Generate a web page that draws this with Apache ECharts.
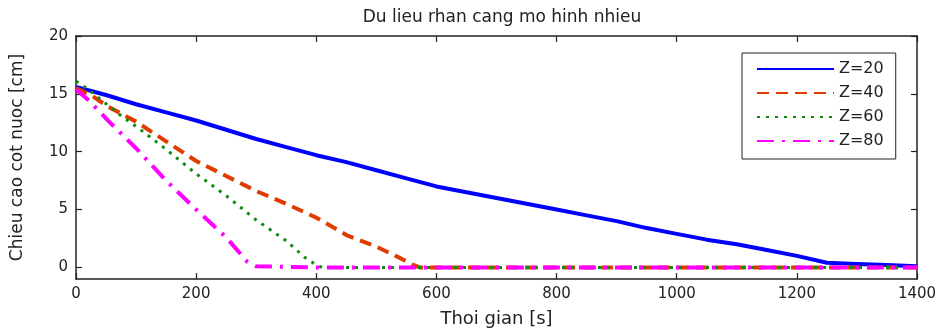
<!DOCTYPE html>
<html>
<head>
<meta charset="utf-8">
<script src="https://cdn.jsdelivr.net/npm/echarts@6/dist/echarts.min.js"></script>
<style>
  html, body { margin: 0; padding: 0; background: #fff; }
  #chart { width: 941px; height: 329px; }
</style>
</head>
<body>
<div id="chart"></div>
<script>
"use strict";

// du lieu doc tu hinh
var tZ20 = [0, 50, 100, 150, 200, 250, 300, 350, 400, 450, 500, 550, 600, 650, 700, 750, 800, 850, 900, 950, 1000, 1050, 1100, 1150, 1200, 1250, 1300, 1350, 1400];
var hZ20 = [15.6, 14.9, 14.1, 13.4, 12.7, 11.9, 11.1, 10.4, 9.7, 9.1, 8.4, 7.7, 7.0, 6.5, 6.0, 5.5, 5.0, 4.5, 4.0, 3.4, 2.9, 2.4, 2.0, 1.5, 1.0, 0.4, 0.3, 0.2, 0.1];

var tZ40 = [0, 25, 50, 100, 150, 200, 250, 300, 350, 400, 450, 500, 540, 560, 572, 1400];
var hZ40 = [15.5, 14.9, 14.0, 12.6, 10.9, 9.2, 7.9, 6.6, 5.5, 4.3, 2.8, 1.8, 0.8, 0.25, 0, 0];

var tZ60 = [0, 20, 70, 110, 150, 200, 250, 300, 350, 380, 400, 410, 1400];
var hZ60 = [16.1, 15.4, 13.3, 11.8, 10.2, 8.1, 6.2, 4.1, 2.3, 0.9, 0.2, 0, 0];

var tZ80 = [0, 20, 55, 100, 150, 200, 250, 285, 300, 400, 1400];
var hZ80 = [15.4, 14.5, 12.6, 10.3, 7.5, 5.0, 2.6, 0.5, 0.1, 0, 0];

var seriesNames = ["Z=20", "Z=40", "Z=60", "Z=80"];
var yTicks = [0, 5, 10, 15, 20];

function pairs(t, h) {
  var out = [];
  for (var i = 0; i < t.length; i++) out.push([t[i], h[i]]);
  return out;
}

var font = "DejaVu Sans";
var axisCol = "#222";

var myChart = echarts.init(document.getElementById("chart"));
var option = {
  animation: false,
  backgroundColor: "#fff",
  textStyle: { fontFamily: font },
  title: {
    text: "Du lieu rhan cang mo hinh nhieu",
    left: 497,
    textAlign: "center",
    top: 4,
    textStyle: { fontFamily: font, fontSize: 17, fontWeight: "normal", color: "#222" }
  },
  grid: { left: 76, right: 24, top: 36, bottom: 50, show: false, containLabel: false, outerBoundsMode: "none" },
  legend: {
    orient: "vertical",
    left: 742,
    top: 53,
    data: seriesNames,
    itemWidth: 77,
    itemHeight: 14,
    itemGap: 8,
    padding: [8, 12, 10, 14],
    backgroundColor: "#fff",
    borderColor: "#222",
    borderWidth: 1,
    itemStyle: { opacity: 0 },
    textStyle: { fontFamily: font, fontSize: 16, color: "#222" }
  },
  xAxis: [
    {
      type: "value", min: 0, max: 1400, interval: 200,
      name: "Thoi gian [s]", nameLocation: "middle", nameGap: 31,
      nameTextStyle: { fontFamily: font, fontSize: 18, color: "#222" },
      axisLine: { show: true, onZero: false, lineStyle: { color: axisCol, width: 1.5 } },
      axisTick: { show: true, inside: true, length: 6, lineStyle: { color: axisCol, width: 1.2 } },
      axisLabel: { fontFamily: font, fontSize: 15, color: "#222", margin: 8, formatter: function (v) { return String(v); } },
      splitLine: { show: false }
    },
    {
      type: "value", position: "top", min: 0, max: 1400, interval: 200,
      axisLine: { show: true, onZero: false, lineStyle: { color: axisCol, width: 1.5 } },
      axisTick: { show: true, inside: true, length: 6, lineStyle: { color: axisCol, width: 1.2 } },
      axisLabel: { show: false },
      splitLine: { show: false }
    }
  ],
  yAxis: [
    {
      type: "value", min: -1, max: 20,
      name: "Chieu cao cot nuoc [cm]", nameLocation: "middle", nameGap: 50,
      nameTextStyle: { fontFamily: font, fontSize: 17, color: "#222" },
      axisLine: { show: true, onZero: false, lineStyle: { color: axisCol, width: 1.5 } },
      axisTick: { show: true, inside: true, length: 6, customValues: yTicks, lineStyle: { color: axisCol, width: 1.2 } },
      axisLabel: { fontFamily: font, fontSize: 15, color: "#222", margin: 8, customValues: yTicks },
      splitLine: { show: false }
    },
    {
      type: "value", position: "right", min: -1, max: 20,
      axisLine: { show: true, onZero: false, lineStyle: { color: axisCol, width: 1.5 } },
      axisTick: { show: true, inside: true, length: 6, customValues: yTicks, lineStyle: { color: axisCol, width: 1.2 } },
      axisLabel: { show: false, customValues: yTicks },
      splitLine: { show: false }
    }
  ],
  series: [
    {
      name: seriesNames[0], type: "line", data: pairs(tZ20, hZ20),
      symbol: "none", color: "#0000ff",
      lineStyle: { color: "#0000ff", width: 4, type: "solid" }
    },
    {
      name: seriesNames[1], type: "line", data: pairs(tZ40, hZ40),
      symbol: "none", color: "#e03c00",
      lineStyle: { color: "#e03c00", width: 4, type: [12, 7] }
    },
    {
      name: seriesNames[2], type: "line", data: pairs(tZ60, hZ60),
      symbol: "none", color: "#108a10",
      lineStyle: { color: "#108a10", width: 3, type: [3, 6] }
    },
    {
      name: seriesNames[3], type: "line", data: pairs(tZ80, hZ80),
      symbol: "none", color: "#ff00ff",
      lineStyle: { color: "#ff00ff", width: 4, type: [17, 8, 3, 8] }
    }
  ]
};
myChart.setOption(option);

window.onresize = function () {
  myChart.resize();
};
</script>
</body>
</html>
